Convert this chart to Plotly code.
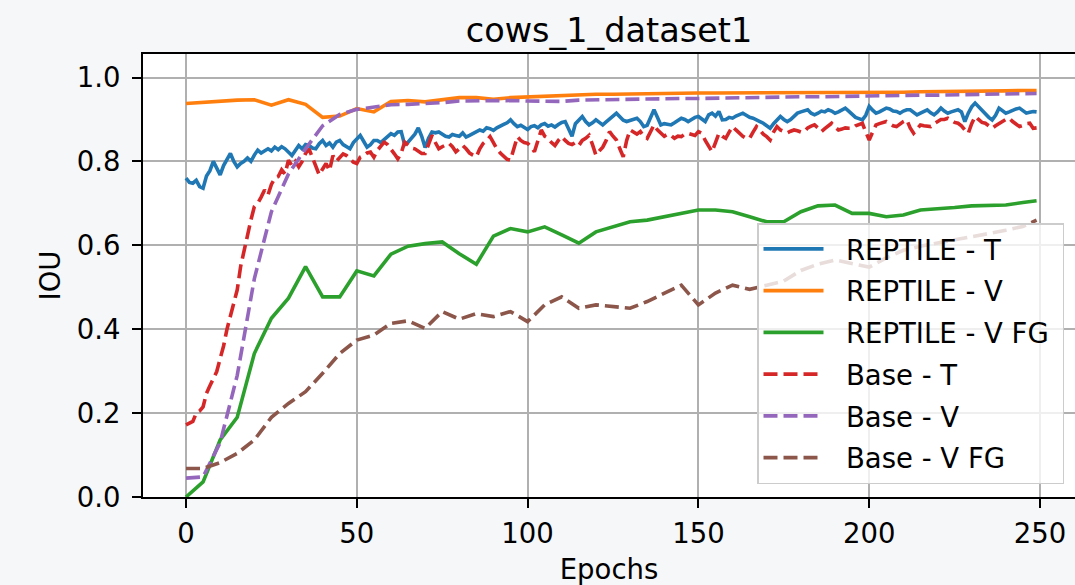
import plotly.graph_objects as go

# ---------------- data ----------------
EPOCHS = list(range(250))
EPOCHS_5 = list(range(0, 250, 5)) + [249]

REPTILE_T = [
    0.760, 0.750, 0.748, 0.755, 0.740, 0.736, 0.765, 0.778, 0.800, 0.785,
    0.768, 0.790, 0.805, 0.819, 0.800, 0.787, 0.795, 0.800, 0.808, 0.800,
    0.815, 0.827, 0.820, 0.826, 0.830, 0.825, 0.834, 0.828, 0.835, 0.830,
    0.822, 0.814, 0.826, 0.838, 0.830, 0.840, 0.838, 0.832, 0.830, 0.842,
    0.850, 0.838, 0.844, 0.834, 0.846, 0.850, 0.840, 0.836, 0.830, 0.845,
    0.855, 0.862, 0.848, 0.834, 0.840, 0.850, 0.850, 0.845, 0.852, 0.858,
    0.866, 0.862, 0.870, 0.871, 0.840, 0.846, 0.856, 0.865, 0.880, 0.860,
    0.833, 0.855, 0.870, 0.868, 0.870, 0.865, 0.860, 0.858, 0.864, 0.862,
    0.860, 0.868, 0.858, 0.862, 0.866, 0.870, 0.875, 0.872, 0.880, 0.878,
    0.874, 0.880, 0.883, 0.888, 0.892, 0.899, 0.890, 0.883, 0.886, 0.880,
    0.876, 0.883, 0.885, 0.880, 0.887, 0.890, 0.884, 0.887, 0.882, 0.888,
    0.893, 0.895, 0.875, 0.860, 0.890, 0.900, 0.907, 0.895, 0.887, 0.892,
    0.899, 0.893, 0.887, 0.894, 0.900, 0.908, 0.915, 0.905, 0.898, 0.895,
    0.898, 0.900, 0.903, 0.895, 0.883, 0.886, 0.905, 0.923, 0.905, 0.887,
    0.890, 0.888, 0.887, 0.892, 0.898, 0.903, 0.900, 0.895, 0.900, 0.905,
    0.907, 0.900, 0.895, 0.911, 0.915, 0.908, 0.919, 0.899, 0.900, 0.905,
    0.903, 0.908, 0.912, 0.915, 0.910, 0.905, 0.903, 0.898, 0.895, 0.891,
    0.885, 0.879, 0.890, 0.900, 0.907, 0.900, 0.895, 0.900, 0.908, 0.915,
    0.918, 0.920, 0.923, 0.915, 0.911, 0.915, 0.920, 0.918, 0.923, 0.920,
    0.915, 0.918, 0.922, 0.927, 0.920, 0.911, 0.905, 0.902, 0.899, 0.910,
    0.931, 0.922, 0.915, 0.918, 0.923, 0.927, 0.925, 0.920, 0.919, 0.915,
    0.920, 0.923, 0.923, 0.918, 0.911, 0.915, 0.920, 0.923, 0.916, 0.911,
    0.918, 0.927, 0.920, 0.915, 0.918, 0.920, 0.923, 0.918, 0.895, 0.915,
    0.930, 0.939, 0.930, 0.923, 0.915, 0.905, 0.899, 0.910, 0.927, 0.920,
    0.915, 0.918, 0.922, 0.925, 0.927, 0.920, 0.915, 0.917, 0.919, 0.918,
]

BASE_T = [
    0.172, 0.175, 0.180, 0.200, 0.205, 0.215, 0.247, 0.265, 0.280, 0.299,
    0.330, 0.360, 0.400, 0.430, 0.460, 0.494, 0.550, 0.590, 0.620, 0.660,
    0.692, 0.700, 0.715, 0.732, 0.720, 0.745, 0.760, 0.764, 0.780, 0.770,
    0.803, 0.790, 0.800, 0.787, 0.800, 0.819, 0.830, 0.810, 0.790, 0.768,
    0.782, 0.795, 0.778, 0.814, 0.800, 0.810, 0.818, 0.814, 0.805, 0.798,
    0.795, 0.810, 0.814, 0.820, 0.822, 0.810, 0.826, 0.835, 0.846, 0.840,
    0.830, 0.818, 0.806, 0.820, 0.846, 0.840, 0.832, 0.830, 0.825, 0.819,
    0.819, 0.840, 0.862, 0.845, 0.830, 0.835, 0.840, 0.843, 0.835, 0.823,
    0.830, 0.838, 0.830, 0.820, 0.815, 0.811, 0.830, 0.843, 0.850, 0.859,
    0.845, 0.830, 0.820, 0.811, 0.805, 0.803, 0.830, 0.859, 0.850, 0.845,
    0.843, 0.835, 0.823, 0.850, 0.875, 0.860, 0.855, 0.845, 0.838, 0.850,
    0.859, 0.850, 0.843, 0.840, 0.845, 0.838, 0.850, 0.855, 0.862, 0.840,
    0.815, 0.825, 0.834, 0.850, 0.871, 0.860, 0.851, 0.830, 0.811, 0.850,
    0.875, 0.870, 0.865, 0.871, 0.860, 0.855, 0.870, 0.887, 0.875, 0.867,
    0.860, 0.865, 0.862, 0.855, 0.860, 0.859, 0.865, 0.867, 0.865, 0.862,
    0.871, 0.867, 0.850, 0.835, 0.823, 0.845, 0.867, 0.860, 0.855, 0.870,
    0.883, 0.875, 0.867, 0.860, 0.855, 0.855, 0.870, 0.883, 0.875, 0.865,
    0.859, 0.851, 0.870, 0.883, 0.875, 0.871, 0.868, 0.872, 0.875, 0.873,
    0.870, 0.871, 0.880, 0.884, 0.887, 0.880, 0.871, 0.878, 0.885, 0.891,
    0.882, 0.875, 0.877, 0.880, 0.879, 0.879, 0.885, 0.888, 0.891, 0.870,
    0.851, 0.870, 0.887, 0.890, 0.892, 0.895, 0.890, 0.885, 0.883, 0.890,
    0.895, 0.899, 0.880, 0.867, 0.878, 0.887, 0.885, 0.883, 0.883, 0.890,
    0.895, 0.900, 0.900, 0.903, 0.898, 0.893, 0.891, 0.885, 0.875, 0.867,
    0.890, 0.907, 0.900, 0.893, 0.891, 0.885, 0.879, 0.885, 0.891, 0.895,
    0.900, 0.903, 0.895, 0.890, 0.883, 0.886, 0.890, 0.891, 0.879, 0.880,
]

REPTILE_V = [
    0.938, 0.941, 0.944, 0.946, 0.947, 0.934, 0.947, 0.936, 0.905, 0.908,
    0.926, 0.918, 0.943, 0.945, 0.942, 0.948, 0.952, 0.952, 0.948, 0.952,
    0.954, 0.955, 0.956, 0.958, 0.960, 0.960, 0.961, 0.961, 0.962, 0.962,
    0.963, 0.963, 0.963, 0.964, 0.964, 0.964, 0.964, 0.964, 0.964, 0.964,
    0.965, 0.965, 0.965, 0.966, 0.966, 0.967, 0.967, 0.968, 0.968, 0.969,
    0.969,
]

REPTILE_V_FG = [
    0.000, 0.036, 0.136, 0.190, 0.342, 0.426, 0.474, 0.549, 0.477, 0.477,
    0.539, 0.527, 0.579, 0.598, 0.604, 0.608, 0.580, 0.555, 0.622, 0.640,
    0.632, 0.644, 0.625, 0.605, 0.632, 0.645, 0.656, 0.660, 0.668, 0.676,
    0.684, 0.684, 0.680, 0.668, 0.656, 0.656, 0.680, 0.694, 0.696, 0.676,
    0.676, 0.668, 0.672, 0.684, 0.686, 0.690, 0.694, 0.695, 0.696, 0.702,
    0.706,
]

BASE_V = [
    0.045, 0.048, 0.130, 0.290, 0.520, 0.680, 0.770, 0.830, 0.885, 0.912,
    0.924, 0.930, 0.935, 0.936, 0.937, 0.940, 0.944, 0.945, 0.946, 0.945,
    0.944, 0.944, 0.943, 0.946, 0.947, 0.948, 0.948, 0.949, 0.949, 0.950,
    0.950, 0.951, 0.952, 0.952, 0.953, 0.953, 0.954, 0.954, 0.955, 0.955,
    0.956, 0.957, 0.957, 0.958, 0.958, 0.959, 0.960, 0.960, 0.961, 0.961,
    0.962,
]

BASE_V_FG = [
    0.068, 0.068, 0.082, 0.104, 0.136, 0.190, 0.223, 0.251, 0.295, 0.342,
    0.374, 0.386, 0.414, 0.420, 0.402, 0.442, 0.424, 0.437, 0.430, 0.442,
    0.418, 0.458, 0.477, 0.450, 0.458, 0.454, 0.450, 0.466, 0.486, 0.505,
    0.458, 0.486, 0.505, 0.495, 0.505, 0.515, 0.540, 0.555, 0.565, 0.557,
    0.548, 0.570, 0.588, 0.598, 0.605, 0.612, 0.620, 0.628, 0.636, 0.645,
    0.660,
]

TICKS_X = [0, 50, 100, 150, 200, 250]
TICKS_Y = [0.0, 0.2, 0.4, 0.6, 0.8, 1.0]

# ---------------- style ----------------
FONT = "DejaVu Sans"
FS = 27.5
LW = 3.6
DASH = "14px,6px"
PAD = "\u00a0\u00a0"  # small gap between legend line and label

series = [
    ("REPTILE - T", EPOCHS, REPTILE_T, "#1f77b4", "solid"),
    ("REPTILE - V", EPOCHS_5, REPTILE_V, "#ff7f0e", "solid"),
    ("REPTILE - V FG", EPOCHS_5, REPTILE_V_FG, "#2ca02c", "solid"),
    ("Base - T", EPOCHS, BASE_T, "#d62728", DASH),
    ("Base - V", EPOCHS_5, BASE_V, "#9467bd", DASH),
    ("Base - V FG", EPOCHS_5, BASE_V_FG, "#8c564b", DASH),
]

fig = go.Figure()
for name, xs, ys, color, dash in series:
    fig.add_trace(go.Scatter(
        x=xs, y=ys, name=PAD + name + "\u00a0", mode="lines", legendgroup=name,
        line=dict(color=color, width=LW, dash=dash),
    ))

W, H = 1075, 585
ML, MR, MT, MB = 143, 0, 54, 88
px_per_epoch = 3.416
x0 = -(186 - ML) / px_per_epoch
x1 = x0 + (W - ML - MR) / px_per_epoch
y_top = (H - MB - MT) / 419.5

axis_common = dict(
    showgrid=True, gridcolor="#b0b0b0", gridwidth=1.6,
    showline=True, linecolor="black", linewidth=2,
    ticks="outside", ticklen=9, tickwidth=2, tickcolor="black",
    tickfont=dict(family=FONT, size=FS, color="black"),
    zeroline=False,
)

fig.update_layout(
    width=W, height=H,
    margin=dict(l=ML, r=MR, t=MT, b=MB),
    paper_bgcolor="#f6f7f9",
    plot_bgcolor="white",
    font=dict(family=FONT, color="black"),
    title=dict(
        text="cows_1_dataset1", x=0.5, xref="paper", xanchor="center",
        y=1 - 30 / H, yref="container", yanchor="middle",
        font=dict(family=FONT, size=33.5, color="black"),
    ),
    xaxis=dict(
        range=[x0, x1], tickvals=TICKS_X, mirror=True,
        title=dict(text="Epochs", font=dict(family=FONT, size=FS, color="black"), standoff=15),
        ticklabelstandoff=2,
        **axis_common,
    ),
    yaxis=dict(
        range=[0, y_top], tickvals=TICKS_Y, tickformat=".1f",
        title=dict(text="IOU", font=dict(family=FONT, size=FS, color="black"), standoff=8),
        ticklabelstandoff=6,
        **axis_common,
    ),
    legend=dict(
        x=(757 - ML) / (W - ML - MR), y=(H - MB - 223) / (H - MB - MT),
        xanchor="left", yanchor="top",
        bgcolor="rgba(255,255,255,0.8)", bordercolor="#cccccc", borderwidth=1.5,
        font=dict(family=FONT, size=FS, color="black"),
        tracegroupgap=3, itemwidth=60,
    ),
    showlegend=True,
)

fig.write_html("out.html")
